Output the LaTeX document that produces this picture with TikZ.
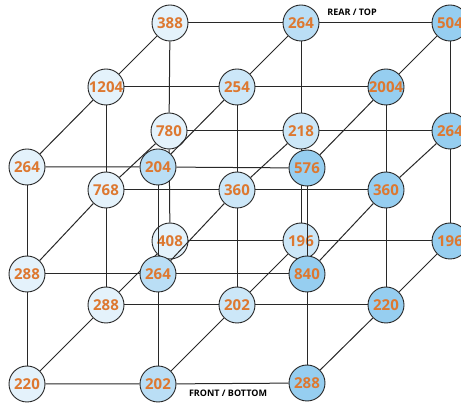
\documentclass[tikz,border=0pt]{standalone}
\usepackage{fontspec}
\setmainfont{Open Sans}
\pgfdeclarelayer{back}
\pgfdeclarelayer{edges}
\pgfsetlayers{back,edges,main}
\definecolor{numor}{RGB}{221,120,48}
\definecolor{fillL}{RGB}{228,242,251}
\definecolor{fillM}{RGB}{204,231,248}
\definecolor{fillN}{RGB}{186,222,245}
\definecolor{fillD}{RGB}{150,206,240}
\definecolor{linec}{RGB}{40,40,40}
\begin{document}
\begin{tikzpicture}[x=1pt,y=-1pt,
  nd/.style={circle,draw=linec,line width=0.9pt,minimum size=36pt,inner sep=0pt,
    text=numor,font=\bfseries\fontsize{15}{15}\selectfont},
  ndL/.style={nd,fill=fillL},
  ndM/.style={nd,fill=fillM},
  ndN/.style={nd,fill=fillN},
  ndD/.style={nd,fill=fillD},
  edge/.style={draw=linec,line width=1pt},
  lbl/.style={font=\bfseries\fontsize{9}{9}\selectfont,text=black,inner sep=0pt}]
\useasboundingbox (0,0) rectangle (461,403);
\begin{pgfonlayer}{back}
\fill[white] (0,0) rectangle (461,403);
% back face (rear)
\node[ndL] (n002) at (170,23) {388};
\node[ndN] (n102) at (301,23) {264};
\node[ndD] (n202) at (450,23) {504};
\node[ndL] (n012) at (169,131) {780};
\node[ndM] (n112) at (301,131) {218};
\node[ndD] (n212) at (450,131) {264};
\node[ndL] (n022) at (170,241) {408};
\node[ndM] (n122) at (301,241) {196};
\node[ndD] (n222) at (450,241) {196};
\end{pgfonlayer}
% middle layer
\node[ndL] (n001) at (106,87) {1204};
\node[ndM] (n101) at (237,87) {254};
\node[ndD] (n201) at (386,87) {2004};
\node[ndL] (n011) at (106,190) {768};
\node[ndM] (n111) at (237,190) {360};
\node[ndD] (n211) at (386,190) {360};
\node[ndL] (n021) at (106,305) {288};
\node[ndM] (n121) at (237,305) {202};
\node[ndD] (n221) at (386,305) {220};
% front face
\node[ndL] (n000) at (27,167) {264};
\node[ndN] (n100) at (158,167) {204};
\node[ndD] (n200) at (307,168) {576};
\node[ndL] (n010) at (27,274) {288};
\node[ndN] (n110) at (158,274) {264};
\node[ndD] (n210) at (307,274) {840};
\node[ndL] (n020) at (27,384) {220};
\node[ndN] (n120) at (158,384) {202};
\node[ndD] (n220) at (307,383) {288};
% labels
\node[lbl] (rear) at (352,12) {REAR / TOP};
\node[lbl] (front) at (228,393) {FRONT / BOTTOM};
\begin{pgfonlayer}{edges}
\foreach \a in {0,1,2}{
  \foreach \b in {0,1,2}{
    \draw[edge] (n0\a\b) -- (n1\a\b) -- (n2\a\b);
    \draw[edge] (n\a0\b) -- (n\a1\b) -- (n\a2\b);
    \draw[edge] (n\a\b0) -- (n\a\b1) -- (n\a\b2);
  }
}
\end{pgfonlayer}
\end{tikzpicture}
\end{document}
